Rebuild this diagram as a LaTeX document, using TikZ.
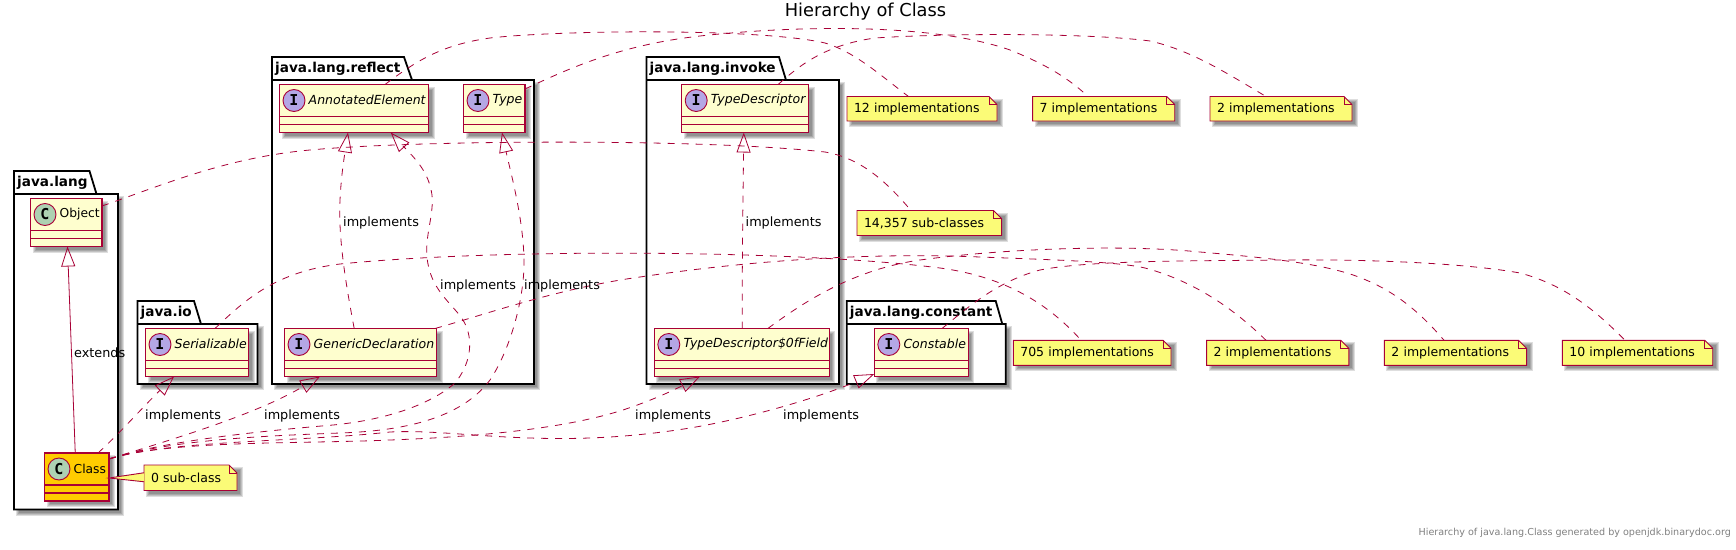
\documentclass[tikz,border=0pt]{standalone}
\usepackage{fontspec}
\setmainfont{DejaVu Sans}
\newfontfamily\badgefont{DejaVu Sans Mono}
\usetikzlibrary{arrows.meta}
\definecolor{umlred}{HTML}{A80036}
\definecolor{classfill}{HTML}{FEFECE}
\definecolor{notefill}{HTML}{FBFB77}
\definecolor{goldfill}{HTML}{FFCC00}
\definecolor{cbadge}{HTML}{ADD1B2}
\definecolor{ibadge}{HTML}{B4A7E5}
\tikzset{
  umlshadow/.style={fill=black,opacity=.13,draw=none},
  pkgoutline/.style={draw=black,line width=1.8pt,fill=white,line join=miter},
  pkglabel/.style={anchor=west,inner sep=0pt,font=\bfseries\fontsize{13.6}{16}\selectfont},
  classbody/.style={draw=umlred,line width=1.5pt,inner sep=0pt,outer sep=0pt},
  classlabel/.style={anchor=west,inner sep=0pt,font=\fontsize{12.3}{15}\selectfont},
  ifacelabel/.style={anchor=west,inner sep=0pt,font=\itshape\fontsize{12.5}{15}\selectfont},
  badge/.style={circle,draw=umlred,line width=.9pt,minimum size=22pt,inner sep=0pt,
    font=\badgefont\bfseries\fontsize{15}{16}\selectfont},
  notebody/.style={inner sep=0pt,outer sep=0pt,align=left,font=\fontsize{12.5}{15}\selectfont},
  noteline/.style={draw=umlred,line width=.9pt,fill=notefill,line join=miter},
  linklabel/.style={inner sep=0pt,anchor=west,font=\fontsize{12.8}{15}\selectfont},
  ext/.style={draw=umlred,line width=.8pt,-{Triangle[open,length=20pt,width=14pt,line width=.8pt]}},
  impl/.style={draw=umlred,line width=.8pt,dash pattern=on 7pt off 7pt,
    -{Triangle[open,length=20pt,width=14pt,line width=.8pt]}},
  notelink/.style={draw=umlred,line width=.8pt,dash pattern=on 7pt off 7pt}
}
\newcommand{\shrect}[4]{%
  \foreach \e in {2,1,0,-1}{%
    \fill[umlshadow] ({#1+4-\e},{#2+4-\e}) rectangle ({#3+4+\e},{#4+4+\e});}}
% name x1 tabR1 tabR2 x2 tabtop bodytop bottom label
\newcommand{\pkg}[9]{%
  \shrect{#2}{#7}{#5}{#8}
  \draw[pkgoutline] (#2,#6) -- (#3,#6) -- (#4,#7) -- (#5,#7) -- (#5,#8) -- (#2,#8) -- cycle;
  \draw[pkgoutline] (#2,#7) -- (#4,#7);
  \node[pkglabel] (#1) at ({#2+3},{#6+11.5}) {#9};}
% name x1 y1 x2 fill letter badgecolor labelstyle text
\newcommand{\umlclass}[9]{%
  \shrect{#2}{#3}{#4}{#3+48}
  \node[classbody,fill=#5,minimum width={(#4-(#2))*1pt},minimum height=48pt] (#1) at ({(#2+#4)/2},{#3+24}) {};
  \draw[classbody] (#2,{#3+32}) -- (#4,{#3+32}) (#2,{#3+40}) -- (#4,{#3+40});
  \node[badge,fill=#7] (#1-badge) at ({#2+14.5},{#3+16}) {#6};
  \node[#8] (#1-label) at ({#2+29},{#3+15.5}) {#9};}
% name x1 y1 x2 y2 text
\newcommand{\umlnote}[6]{%
  \foreach \e in {2,1,0,-1}{%
    \fill[umlshadow] ({#2+4-\e},{#3+4-\e}) rectangle ({#4+4+\e},{#5+4+\e});}
  \draw[noteline] (#2,#3) -- ({#4-8},#3) -- (#4,{#3+8}) -- (#4,#5) -- (#2,#5) -- cycle;
  \draw[draw=umlred,line width=.9pt] ({#4-8},#3) -- ({#4-8},{#3+8}) -- (#4,{#3+8});
  \node[notebody,minimum width={(#4-(#2))*1pt},minimum height={(#5-(#3))*1pt},text width={(#4-(#2)-14)*1pt}] (#1) at ({(#2+#4)/2},{(#3+#5)/2}) {#6};}
\begin{document}
\begin{tikzpicture}[x=1pt,y=-1pt]
\useasboundingbox (0,0) rectangle (1736,549);
\fill[white] (0,0) rectangle (1736,549);
\node[inner sep=0pt,font=\fontsize{17.8}{20}\selectfont] (title) at (865.5,12) {Hierarchy of Class};
\node[inner sep=0pt,anchor=east,text=black!50,font=\fontsize{9.6}{11}\selectfont] (footer) at (1731,533) {Hierarchy of java.lang.Class generated by openjdk.binarydoc.org};
% packages
\pkg{plang}{14}{89.5}{96.5}{118}{171}{194}{509.5}{java.lang}
\pkg{pio}{137.5}{194}{201}{257.5}{301}{324}{384}{java.io}
\pkg{preflect}{272}{404}{412}{534}{57}{80}{384}{java.lang.reflect}
\pkg{pinvoke}{646.5}{779}{786}{839}{57}{80}{384}{java.lang.invoke}
\pkg{pconstant}{846.7}{995.7}{1002.3}{1005.7}{301}{324}{384}{java.lang.constant}
% classes
\umlclass{Object}{30.5}{198.5}{102}{classfill}{C}{cbadge}{classlabel}{Object}
\umlclass{Class}{44.5}{453}{109}{goldfill}{C}{cbadge}{classlabel}{Class}
\umlclass{Serial}{145.5}{328.5}{248.5}{classfill}{I}{ibadge}{ifacelabel}{Serializable}
\umlclass{AE}{279.5}{84.5}{428.5}{classfill}{I}{ibadge}{ifacelabel}{AnnotatedElement}
\umlclass{Type}{463.5}{84.5}{525}{classfill}{I}{ibadge}{ifacelabel}{Type}
\umlclass{GD}{284.5}{328.5}{436.5}{classfill}{I}{ibadge}{ifacelabel}{GenericDeclaration}
\umlclass{TD}{681.7}{84.5}{808.5}{classfill}{I}{ibadge}{ifacelabel}{TypeDescriptor}
\umlclass{TDF}{654.3}{328.5}{829.3}{classfill}{I}{ibadge}{ifacelabel}{TypeDescriptor\$0fField}
\umlclass{Const}{874.3}{328.5}{968.3}{classfill}{I}{ibadge}{ifacelabel}{Constable}
% notes
\umlnote{nZero}{144}{465}{237}{490.5}{0 sub-class}
\umlnote{nTwelve}{847}{96.5}{997}{121}{12 implementations}
\umlnote{nSeven}{1032.6}{96.5}{1174.7}{121}{7 implementations}
\umlnote{nTwoA}{1210}{96.5}{1352}{121}{2 implementations}
\umlnote{nSub}{857}{210.5}{1001.6}{235.5}{14,357 sub-classes}
\umlnote{nSevenOFive}{1013.3}{340.3}{1171}{365.3}{705 implementations}
\umlnote{nTwoB}{1206.6}{340.3}{1348.8}{365.3}{2 implementations}
\umlnote{nTwoC}{1384.4}{340.3}{1526.6}{365.3}{2 implementations}
\umlnote{nTen}{1562.3}{340.3}{1712.7}{365.3}{10 implementations}
% note wedge from Class
\coordinate (wedgeA) at ([yshift=5pt]nZero.west);
\coordinate (wedgeB) at ([yshift=-4pt]nZero.west);
\fill[notefill] (wedgeA) -- ([yshift=-1pt]Class.east) -- (wedgeB) -- cycle;
\draw[draw=umlred,line width=.9pt] (wedgeA) -- ([yshift=-1pt]Class.east) -- (wedgeB);
% inheritance
\draw[ext] ([xshift=-1.5pt]Class.north) -- ([xshift=1.25pt]Object.south);
\node[linklabel] (lExt) at (74,353) {extends};
% implements links
\coordinate (cStart) at ([yshift=-6pt]Class.north east);
\draw[impl] ([xshift=21.25pt]Class.north) .. controls (120,433) and (140,410) .. ([xshift=-23pt]Serial.south);
\draw[impl] (cStart) .. controls (170,440) and (255,415) .. ([xshift=-40.5pt]GD.south);
\draw[impl] ([xshift=-6.3pt]GD.north) .. controls (347,290) and (338,240) .. (340,200) .. controls (341,180) and (343,165) .. ([xshift=-6pt]AE.south);
\draw[impl] (cStart) .. controls (160,442) and (250,432) .. (333,425) .. controls (385,420) and (430,405) .. (455,383) .. controls (470,365) and (475,340) .. (463,320) .. controls (452,303) and (430,290) .. (427,257) .. controls (425,235) and (434,215) .. (432,195) .. controls (429,175) and (420,163) .. (403,146) -- ([xshift=36.7pt]AE.south);
\draw[impl] (cStart) .. controls (170,440) and (260,436) .. (340,433) .. controls (400,431) and (460,420) .. (490,380) .. controls (510,350) and (524,300) .. (524,263) .. controls (524,220) and (510,170) .. ([xshift=7.75pt]Type.south);
\draw[impl] ([xshift=.5pt]TDF.north) .. controls (742,260) and (743,200) .. ([xshift=-1.3pt]TD.south);
\draw[impl] (cStart) .. controls (170,440) and (300,444) .. (390,440) .. controls (470,437) and (560,430) .. (623,410) .. controls (650,401) and (670,392) .. ([xshift=-41.8pt]TDF.south);
\draw[impl] (cStart) .. controls (170,440) and (300,442) .. (390,432) .. controls (430,430) and (470,436) .. (530,438) .. controls (590,440) and (640,436) .. (690,428) .. controls (750,418) and (820,397) .. ([yshift=2.5pt]Const.south west);
% note links
\draw[notelink] ([xshift=31pt]AE.north) .. controls (415,62) and (440,45) .. (490,38) .. controls (560,30) and (760,28) .. (825,43) .. controls (855,52) and (880,75) .. ([xshift=-13.5pt]nTwelve.north);
\draw[notelink] ([yshift=-4.5pt]Type.north east) .. controls (570,68) and (620,45) .. (700,36) .. controls (790,26) and (930,22) .. (1010,50) .. controls (1040,62) and (1065,75) .. ([xshift=-15.6pt]nSeven.north);
\draw[notelink] ([xshift=33pt]TD.north) .. controls (800,65) and (825,45) .. (875,38) .. controls (950,33) and (1090,33) .. (1150,41) .. controls (1190,50) and (1225,72) .. ([xshift=-15pt]nTwoA.north);
\draw[notelink] ([yshift=-7.5pt]Object.north east) .. controls (160,186) and (220,160) .. (300,151) .. controls (400,140) and (700,138) .. (825,152) .. controls (860,158) and (885,180) .. ([xshift=-18.3pt]nSub.north);
\draw[notelink] ([xshift=18pt]Serial.north) .. controls (245,300) and (275,272) .. (340,264) .. controls (500,248) and (800,250) .. (940,268) .. controls (1000,276) and (1045,300) .. ([xshift=-11pt]nSevenOFive.north);
\draw[notelink] ([xshift=-1.5pt]GD.north east) .. controls (490,313) and (560,288) .. (640,277) .. controls (740,262) and (860,252) .. (980,257) .. controls (1060,260) and (1120,262) .. (1145,268) .. controls (1190,280) and (1230,305) .. ([xshift=-11.7pt]nTwoB.north);
\draw[notelink] ([xshift=26pt]TDF.north) .. controls (800,305) and (850,270) .. (920,260) .. controls (1000,249) and (1120,244) .. (1200,252) .. controls (1270,258) and (1330,264) .. (1366,280) .. controls (1395,292) and (1420,312) .. ([xshift=-11.5pt]nTwoC.north);
\draw[notelink] ([xshift=20.7pt]Const.north) .. controls (965,310) and (995,282) .. (1040,270) .. controls (1090,260) and (1200,261) .. (1280,260) .. controls (1380,259) and (1470,264) .. (1520,273) .. controls (1565,285) and (1595,310) .. ([xshift=-12.5pt]nTen.north);
% labels
\node[linklabel] (lSerial) at (145,415.7) {implements};
\node[linklabel] (lGD) at (264,415.7) {implements};
\node[linklabel] (lAEa) at (343,223) {implements};
\node[linklabel] (lAEb) at (440,285.7) {implements};
\node[linklabel] (lType) at (524,285.7) {implements};
\node[linklabel] (lTD) at (745.5,223) {implements};
\node[linklabel] (lTDF) at (635,415.7) {implements};
\node[linklabel] (lConst) at (783,415.7) {implements};
\end{tikzpicture}
\end{document}
